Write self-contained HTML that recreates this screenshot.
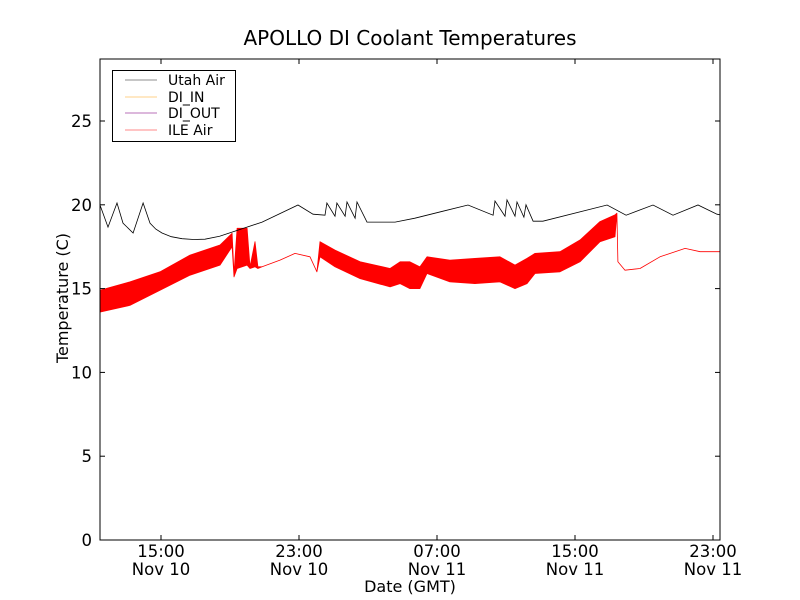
<!DOCTYPE html>
<html><head><meta charset="utf-8"><style>
body{margin:0;background:#fff;}
svg{display:block;font-family:"DejaVu Sans","Liberation Sans",sans-serif;}
</style></head><body>
<svg id="chart" width="800" height="600" viewBox="0 0 800 600">
<rect width="800" height="600" fill="#fff"/>
<text x="410" y="45" font-size="20" text-anchor="middle">APOLLO DI Coolant Temperatures</text>
<text x="410" y="592" font-size="16" text-anchor="middle">Date (GMT)</text>
<text x="68" y="298" font-size="16" text-anchor="middle" transform="rotate(-90 68 298)">Temperature (C)</text>
<g id="plot"></g>
<g id="axes"></g>
<g>
<rect x="112.5" y="70.5" width="123" height="71" fill="#fff" stroke="#000" stroke-width="1"/>
<g><line x1="125" y1="80" x2="157" y2="80" stroke="#666" stroke-width="0.8"/><text x="168" y="85" font-size="14">Utah Air</text></g>
<g><line x1="125" y1="97" x2="157" y2="97" stroke="#ffc060" stroke-width="0.8"/><text x="168" y="102" font-size="14">DI_IN</text></g>
<g><line x1="125" y1="113" x2="157" y2="113" stroke="#a040a0" stroke-width="0.8"/><text x="168" y="118" font-size="14">DI_OUT</text></g>
<g><line x1="125" y1="130" x2="157" y2="130" stroke="#ff6060" stroke-width="0.8"/><text x="168" y="135" font-size="14">ILE Air</text></g>
</g>
</svg>
<script>
// hours since Nov 10 00:00 GMT
const utahTimes=[11.46,11.93,12.45,12.80,13.38,13.96,14.36,14.7,15.06,15.6,16.22,16.9,17.55,18.4,19.29,20.86,22.94,23.81,24.51,24.62,25.09,25.20,25.67,25.78,26.25,26.36,26.94,28.57,29.72,31.35,32.80,34.25,34.36,34.94,35.06,35.52,35.64,36.04,36.16,36.57,37.14,40.86,41.96,43.52,44.68,46.13,47.23,47.41];
const utahTemps=[20.0,18.67,20.11,18.91,18.32,20.11,18.91,18.55,18.32,18.1,17.98,17.93,17.95,18.12,18.43,18.97,19.99,19.44,19.38,20.11,19.32,20.11,19.32,20.17,19.2,20.17,18.97,18.97,19.2,19.62,19.99,19.38,20.23,19.32,20.29,19.32,20.17,19.26,20.0,19.02,19.02,19.99,19.38,19.99,19.38,19.99,19.44,19.4];
const ileTimes=[11.46,13.20,14.94,16.68,18.42,19.12,19.23,19.41,19.99,20.16,20.45,20.62,20.86,21.90,22.77,23.64,24.04,24.22,25.09,26.54,28.28,28.86,29.43,30.01,30.42,31.75,33.20,34.65,35.52,36.22,36.68,38.13,39.29,40.45,41.32,41.43,41.49,41.90,42.77,43.93,45.38,46.25,47.41];
const ileLow=[13.6,14.0,14.9,15.8,16.4,17.5,15.7,16.2,16.4,16.2,16.3,16.2,16.3,16.7,17.1,16.9,16.0,16.9,16.3,15.6,15.1,15.3,15.0,15.0,15.9,15.4,15.3,15.4,15.0,15.3,15.9,16.0,16.6,17.8,18.1,19.5,16.6,16.1,16.2,16.9,17.4,17.2,17.2];
const ileHigh=[14.9,15.4,16.0,17.0,17.6,18.3,15.9,18.6,18.6,16.3,17.8,16.3,16.3,16.7,17.1,16.9,16.0,17.8,17.3,16.6,16.2,16.6,16.6,16.3,16.9,16.7,16.8,16.9,16.4,16.8,17.1,17.2,17.9,19.0,19.4,19.5,16.6,16.1,16.2,16.9,17.4,17.2,17.2];
const yTicks=[0,5,10,15,20,25];
const xTicks=[15,23,31,39,47];
const xTickTimes=["15:00","23:00","07:00","15:00","23:00"];
const xTickDates=["Nov 10","Nov 10","Nov 11","Nov 11","Nov 11"];

const L=100,R=720,T=59,B=540;
const xMin=11.464,xMax=47.406,yMin=0,yMax=28.7;
const xs=h=>L+(h-xMin)/(xMax-xMin)*(R-L);
const ys=v=>B-(v-yMin)/(yMax-yMin)*(B-T);
const NS="http://www.w3.org/2000/svg";
const plot=document.getElementById('plot'),axes=document.getElementById('axes');
function mk(tag,attrs,parent){const e=document.createElementNS(NS,tag);for(const k in attrs)e.setAttribute(k,attrs[k]);parent.appendChild(e);return e;}

let band=ileTimes.map((t,i)=>xs(t).toFixed(1)+','+ys(ileHigh[i]).toFixed(1));
for(let i=ileTimes.length-1;i>=0;i--)band.push(xs(ileTimes[i]).toFixed(1)+','+ys(ileLow[i]).toFixed(1));
const b=mk('polygon',{points:band.join(' '),fill:'#ff0000',stroke:'#ff0000','stroke-width':0.8,'stroke-linejoin':'round'},plot);



const u=mk('polyline',{points:utahTimes.map((t,i)=>xs(t).toFixed(1)+','+ys(utahTemps[i]).toFixed(1)).join(' '),fill:'none',stroke:'#000','stroke-width':0.8},plot);



const fr=mk('rect',{x:L,y:T,width:R-L,height:B-T,fill:'none',stroke:'#000','stroke-width':1},axes);


yTicks.forEach(v=>{
  const y=ys(v);
  mk('line',{x1:L,y1:y,x2:L+5,y2:y,stroke:'#000'},axes);
  mk('line',{x1:R,y1:y,x2:R-5,y2:y,stroke:'#000'},axes);
  const t=mk('text',{x:L-8,y:y+6,'font-size':16.5,'text-anchor':'end'},axes);
  t.textContent=v;
  
  
});
xTicks.forEach((h,i)=>{
  const x=xs(h);
  mk('line',{x1:x,y1:B,x2:x,y2:B-5,stroke:'#000'},axes);
  mk('line',{x1:x,y1:T,x2:x,y2:T+5,stroke:'#000'},axes);
  const t=mk('text',{x:x,y:557,'font-size':16.5,'text-anchor':'middle'},axes);
  t.textContent=xTickTimes[i];
  
  
  const d=mk('text',{x:x,y:575,'font-size':16.5,'text-anchor':'middle'},axes);
  d.textContent=xTickDates[i];
  
  
});
</script>
</body></html>
